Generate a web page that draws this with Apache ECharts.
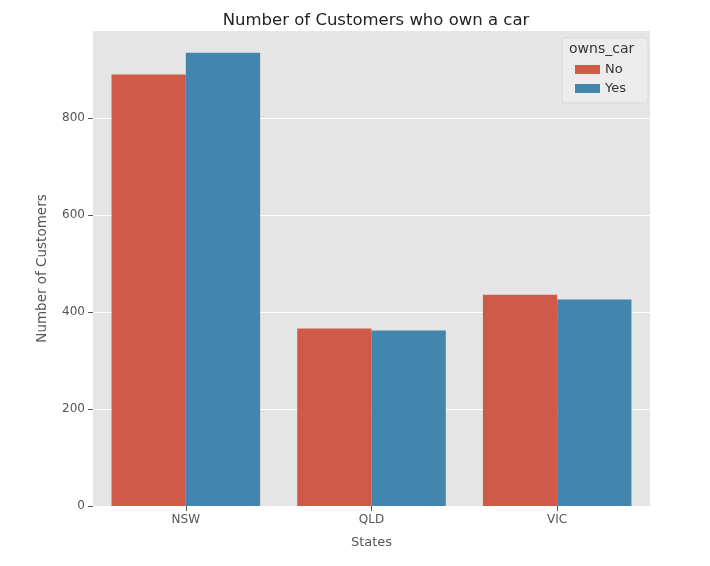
<!DOCTYPE html>
<html>
<head>
<meta charset="utf-8"/>
<title>Number of Customers who own a car</title>
<script src="https://cdn.jsdelivr.net/npm/echarts@6/dist/echarts.min.js"></script>
</head>
<body style="margin:0;background:#fff;">
<div id="main" style="width:710px;height:566px;"></div>
<script type="text/javascript">
    // data
    var states = ['NSW', 'QLD', 'VIC'];
    var noCar = [890, 366, 436];
    var yesCar = [935, 362, 426];

    var chart = echarts.init(document.getElementById('main'));

    chart.setOption({
        backgroundColor: '#ffffff',
        textStyle: {fontFamily: 'DejaVu Sans'},
        title: {
            text: 'Number of Customers who own a car',
            left: 371,
            top: 7,
            textAlign: 'center',
            textStyle: {fontSize: 16.5, fontWeight: 'normal', color: '#222'}
        },
        grid: {left: 93, right: 60, top: 31, bottom: 60, show: true, backgroundColor: '#e5e5e5', borderWidth: 0},
        legend: {
            orient: 'vertical',
            right: 62,
            top: 38,
            padding: [25, 22, 8, 13],
            backgroundColor: '#ececec',
            borderColor: '#d9d9d9',
            borderWidth: 1,
            borderRadius: 3,
            icon: 'rect',
            itemWidth: 25,
            itemHeight: 9,
            itemGap: 6,
            textStyle: {fontSize: 13, color: '#333'},
            data: ['No', 'Yes']
        },
        graphic: [{
            type: 'text',
            left: 569,
            top: 42,
            z: 100,
            style: {text: 'owns_car', fontSize: 14, fill: '#333', fontFamily: 'DejaVu Sans'}
        }],
        xAxis: {
            type: 'category',
            data: states,
            name: 'States',
            nameLocation: 'middle',
            nameGap: 30,
            nameTextStyle: {fontSize: 13, color: '#555'},
            axisLine: {show: false},
            axisTick: {show: true, alignWithLabel: true, length: 5, lineStyle: {color: '#555'}},
            axisLabel: {fontSize: 12, color: '#555', margin: 8},
            splitLine: {show: false}
        },
        yAxis: {
            type: 'value',
            min: 0,
            max: 980,
            interval: 200,
            name: 'Number of Customers',
            nameLocation: 'middle',
            nameGap: 44,
            nameTextStyle: {fontSize: 13.5, color: '#555'},
            axisLine: {show: false},
            axisTick: {show: true, length: 5, lineStyle: {color: '#555'}},
            axisLabel: {fontSize: 12, color: '#555', margin: 8, showMaxLabel: false},
            splitLine: {show: true, showMaxLine: false, lineStyle: {color: '#ffffff', width: 1.2}}
        },
        series: [{
            name: 'No',
            type: 'bar',
            data: noCar,
            barGap: '0%',
            barCategoryGap: '20%',
            itemStyle: {color: '#cf5a48'}
        }, {
            name: 'Yes',
            type: 'bar',
            data: yesCar,
            itemStyle: {color: '#4285ad'}
        }]
    });
</script>
</body>
</html>
